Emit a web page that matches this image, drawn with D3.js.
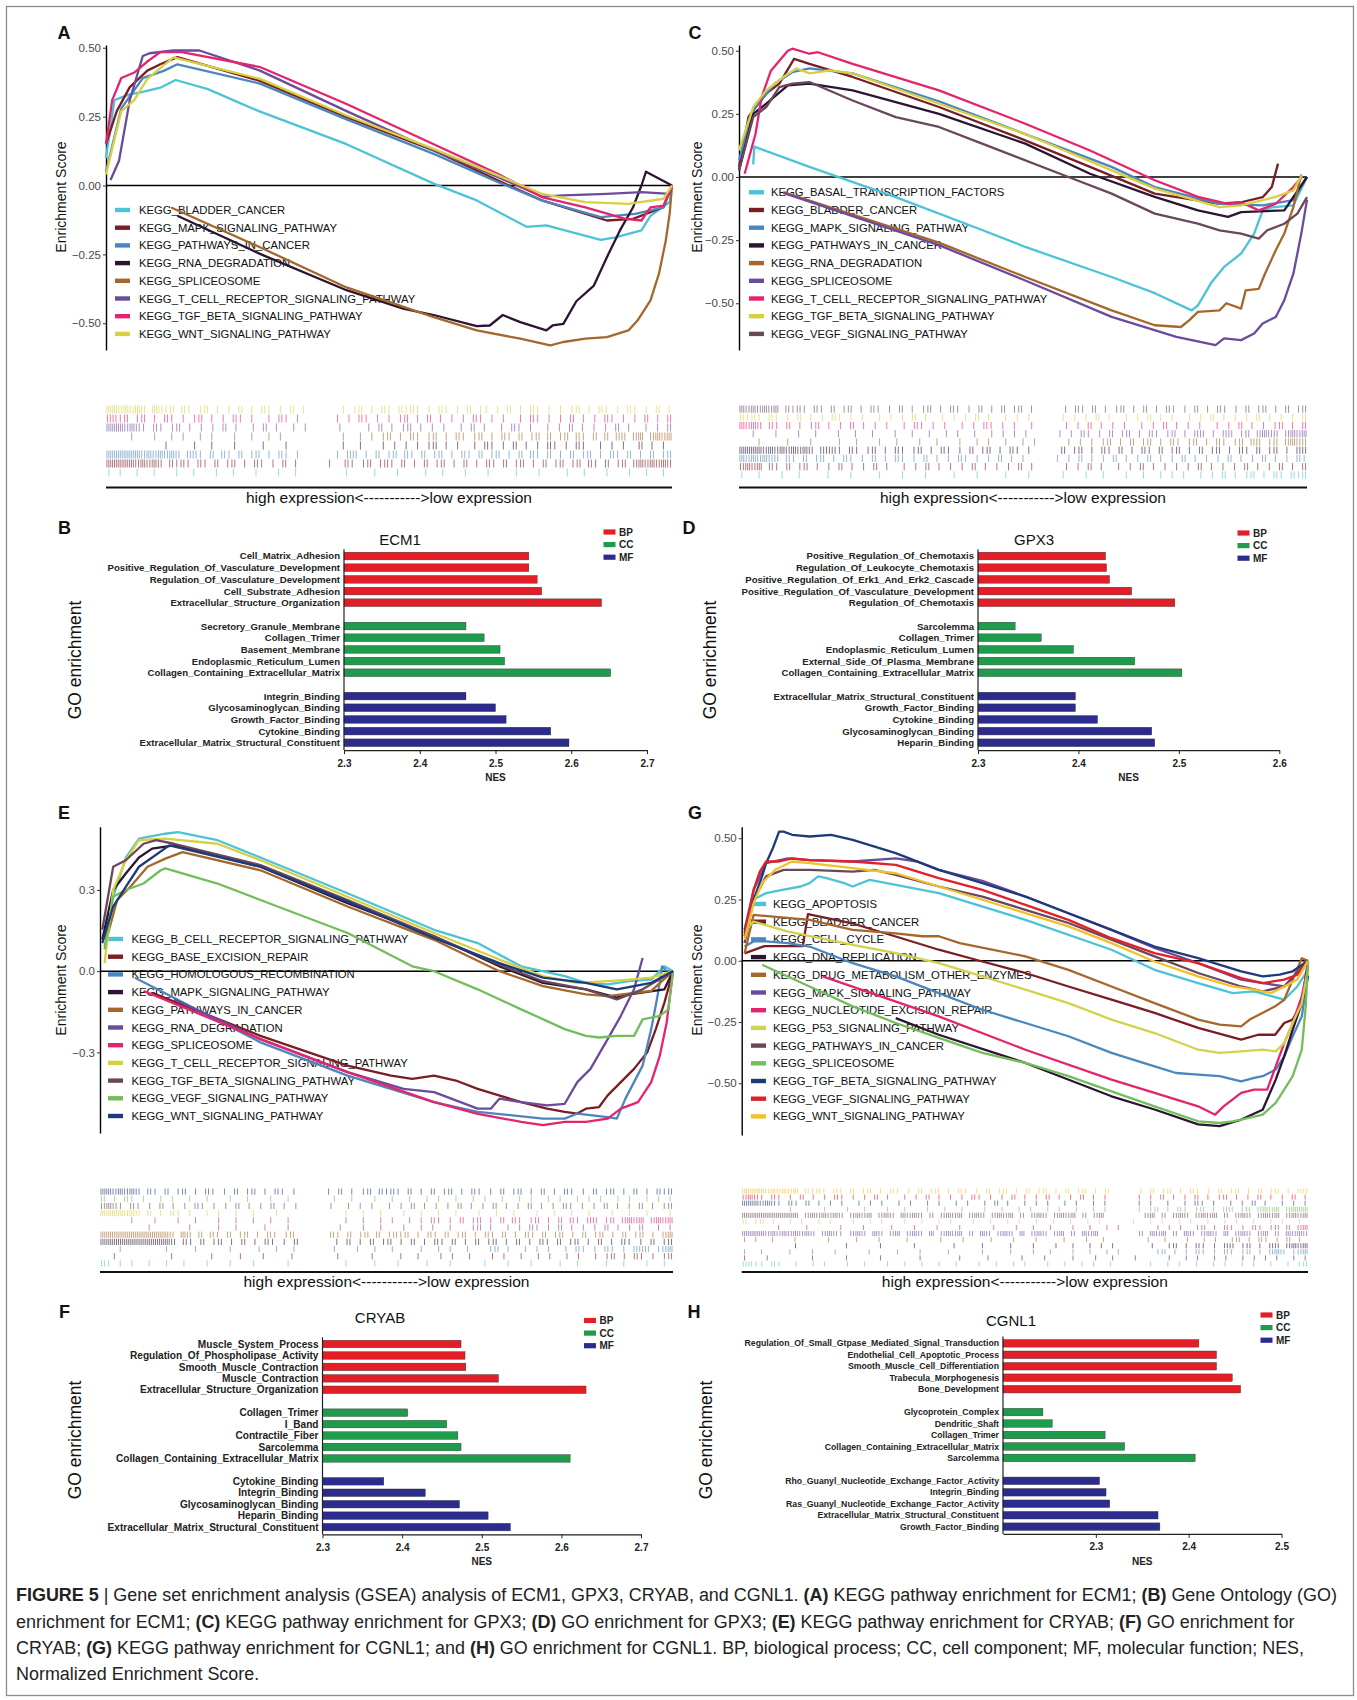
<!DOCTYPE html>
<html><head><meta charset="utf-8">
<script src="https://cdn.jsdelivr.net/npm/d3@7"></script>
<style>body{margin:0;background:#fff}svg{display:block}</style>
</head><body>
<svg id="c" width="1357" height="1700"></svg>
<script>
// ===================== DATA =====================
// Panel A (KEGG, ECM1)
const keggA_names = ["KEGG_BLADDER_CANCER","KEGG_MAPK_SIGNALING_PATHWAY","KEGG_PATHWAYS_IN_CANCER","KEGG_RNA_DEGRADATION","KEGG_SPLICEOSOME","KEGG_T_CELL_RECEPTOR_SIGNALING_PATHWAY","KEGG_TGF_BETA_SIGNALING_PATHWAY","KEGG_WNT_SIGNALING_PATHWAY"];
const keggA_curves = [
 [[0,0.10],[1.5,0.31],[4,0.33],[6.5,0.34],[9.6,0.355],[12.3,0.383],[18,0.35],[27,0.27],[42.5,0.15],[58,0.006],[65.5,-0.054],[74.3,-0.15],[77.8,-0.145],[87.4,-0.197],[90,-0.188],[94.6,-0.163],[96.2,-0.11],[99.6,-0.06],[100,0]],
 [[0,0.15],[1.9,0.27],[4.2,0.357],[7.3,0.417],[9.6,0.44],[12.6,0.466],[27.2,0.38],[42.5,0.248],[57.9,0.127],[69.3,0.018],[77,-0.054],[88.5,-0.127],[93.1,-0.121],[98.5,-0.079],[100,0]],
 [[0,0.05],[2.7,0.28],[6.5,0.39],[10.3,0.417],[12.6,0.44],[27.2,0.37],[42.5,0.24],[57.9,0.115],[69.3,0.012],[77,-0.054],[87.4,-0.115],[93.5,-0.103],[98.5,-0.079],[100,0]],
 [[12.6,-0.11],[27.2,-0.248],[42.5,-0.38],[52.5,-0.447],[57.9,-0.47],[65.5,-0.51],[67.8,-0.508],[70.1,-0.47],[73.2,-0.496],[77.8,-0.526],[78.9,-0.508],[80.8,-0.502],[83.1,-0.42],[86.2,-0.363],[88.5,-0.26],[90.8,-0.163],[93.1,-0.08],[94.6,0],[95.4,0.05],[100,0]],
 [[11.5,-0.08],[27.2,-0.224],[42.5,-0.37],[57.9,-0.478],[65.5,-0.526],[73.2,-0.556],[78.5,-0.58],[80.8,-0.568],[84.7,-0.556],[88.5,-0.55],[92.3,-0.526],[93.9,-0.49],[96.2,-0.417],[97.7,-0.32],[98.9,-0.2],[99.6,-0.1],[100,0]],
 [[0.8,0.02],[2.3,0.09],[4.2,0.31],[6.5,0.47],[7.7,0.48],[11.9,0.49],[16.5,0.49],[27.2,0.417],[42.5,0.27],[57.9,0.127],[69.3,0.03],[77,-0.04],[80.8,-0.036],[88.5,-0.03],[94.6,-0.024],[99.6,-0.03],[100,0]],
 [[0,0.15],[1.1,0.31],[2.7,0.39],[5,0.41],[7.3,0.45],[9.6,0.484],[13.4,0.484],[27.2,0.43],[42.5,0.296],[57.9,0.15],[69.3,0.042],[77,-0.042],[84.7,-0.079],[91.6,-0.12],[94.6,-0.127],[96.2,-0.079],[98.5,-0.073],[100,0]],
 [[0,0.04],[2.7,0.27],[5,0.31],[7.3,0.387],[11.9,0.465],[27.2,0.387],[42.5,0.254],[57.9,0.133],[69.3,0.036],[77,-0.03],[84.7,-0.06],[92.3,-0.067],[98.5,-0.048],[100,0]]
];
// barcode rows, top to bottom (reverse legend order); each char = number of gene hits in that rank bin
const keggA_hits = [
 "3323232.3212.21.12.1.1.2.1.21.1.2.1......1.12.1.21.2121.1.21.1.2.11.1.2.1.21.1.1.12.1.21.1.21.1.2.1",
 "2212.12.1.21.1.12.1.1.21.1..1.21.1......1.1.21.1.1.12.1.2.1.1.1.21.1.1..1.21.1.1.2.1.1.21.1.1.2.1.2",
 "3332321.21.12.1.1.1.2.1..1.2.1..1.1.....1....1.2.1.12.1.1.1..1.2.1..1.21.1..1.1.2.1.1.1.2.1..1.1.2",
 "....1...1..1.1..1.1...1..1..1.1..........1..1.1.12.1.21.12.1.21.12.1.21.2.12.2.12.21.2.2.22.23.2323",
 "..........1....1..1...1....1...1.........1..1...1.1.1.1.12.1.1..1.21.1.2.1.1.21.1.21..1.1.1..2.1.1.",
 "3333332323232.221.2.21.2.12.1.21.1......1.22.1.2.12.21.2.12.1.21.2.12.1.2.21.2.1.2.12.1.21.2.1.2.12",
 "3333323232.2121.21.2.12.1.21.1.2.1.....1..21.12.121.2.1.2.12.1.2.1.21.2.12.1.2.12.12.21.2.12.2323232",
 "1.1..1..1...1..1...1..1...1...1..1........1....1...1....1..1...1...1....1...1....1..1...1...1..1..1."
];

// Panel C (KEGG, GPX3)
const keggC_names = ["KEGG_BASAL_TRANSCRIPTION_FACTORS","KEGG_BLADDER_CANCER","KEGG_MAPK_SIGNALING_PATHWAY","KEGG_PATHWAYS_IN_CANCER","KEGG_RNA_DEGRADATION","KEGG_SPLICEOSOME","KEGG_T_CELL_RECEPTOR_SIGNALING_PATHWAY","KEGG_TGF_BETA_SIGNALING_PATHWAY","KEGG_VEGF_SIGNALING_PATHWAY"];
const keggC_curves = [
 [[2.5,0.05],[2.7,0.12],[12.4,0.04],[27.6,-0.08],[42.8,-0.21],[50.4,-0.277],[65.6,-0.396],[73.2,-0.46],[79.7,-0.528],[80.8,-0.508],[83.1,-0.42],[85.4,-0.356],[88.4,-0.303],[90.7,-0.224],[92.2,-0.132],[93.8,-0.12],[97.6,-0.112],[100,0]],
 [[0,0.04],[1.7,0.24],[4.8,0.33],[7.1,0.37],[9.7,0.468],[12.4,0.448],[20,0.396],[35.2,0.277],[50.4,0.145],[61.8,0.04],[73.2,-0.066],[84.6,-0.106],[88.4,-0.1],[92.2,-0.08],[93.8,-0.04],[94.9,0.053]],
 [[0,0.066],[2.5,0.264],[6.3,0.37],[9.4,0.415],[12.4,0.43],[20,0.41],[35.2,0.3],[50.4,0.17],[65.6,0.04],[73.2,-0.04],[84.6,-0.106],[92.2,-0.112],[97.6,-0.092],[100,0]],
 [[0,0.026],[2.5,0.25],[4.8,0.29],[8.6,0.363],[12.4,0.37],[20,0.343],[35.2,0.25],[50.4,0.132],[61.8,0.013],[73.2,-0.079],[80.8,-0.132],[86.1,-0.158],[88.4,-0.139],[96,-0.132],[100,0]],
 [[7.8,-0.06],[35.2,-0.26],[50.4,-0.396],[65.6,-0.528],[73.2,-0.587],[77.8,-0.594],[79.3,-0.567],[80.8,-0.534],[84.6,-0.528],[85.8,-0.5],[88.4,-0.521],[89.2,-0.449],[91.5,-0.443],[92.6,-0.383],[94.5,-0.29],[96,-0.224],[97.6,-0.119],[99,0.01]],
 [[7.8,-0.063],[35.2,-0.27],[50.4,-0.41],[65.6,-0.554],[77,-0.633],[83.9,-0.666],[85.4,-0.639],[88.4,-0.646],[90.7,-0.62],[92.2,-0.58],[94.5,-0.554],[96,-0.488],[97.6,-0.383],[99,-0.224],[100,-0.09]],
 [[1,0.013],[2.9,0.17],[4,0.317],[5.6,0.42],[7.1,0.46],[8.6,0.5],[9.4,0.508],[12.4,0.488],[13.9,0.494],[20,0.448],[35.2,0.343],[50.4,0.211],[61.8,0.105],[73.2,-0.013],[80.8,-0.079],[86.1,-0.106],[88.4,-0.1],[91.5,-0.132],[94.5,-0.106],[97.6,-0.04],[99.1,0]],
 [[0,0.105],[2.5,0.277],[4.8,0.343],[7.8,0.396],[10.1,0.43],[12.4,0.41],[16.1,0.422],[20,0.41],[35.2,0.29],[50.4,0.17],[65.6,0.026],[73.2,-0.046],[84.6,-0.119],[88.4,-0.112],[94.5,-0.079],[97.6,-0.053],[99.1,0.007]],
 [[0,0.026],[2.5,0.237],[4.8,0.277],[7.1,0.356],[9.4,0.37],[12.4,0.376],[20,0.303],[27.6,0.237],[35.2,0.198],[42.8,0.132],[58,0],[65.6,-0.066],[73.2,-0.145],[80.8,-0.185],[84.6,-0.211],[88.4,-0.224],[91.5,-0.244],[93,-0.211],[96,-0.185],[98.3,-0.145],[100,-0.08]]
];
const keggC_hits = [
 "3232323.2121.21.2.12.1.21.1.2.1.12.1.21.1.2.1.2.12.1.....1.21.2.1.12.1.2.1.21.1.2.1.21.1.2.12.1.2.12",
 "2121.21.1.2.1.1.21.1.1..1.1.1.2.1..1.1.1.2.1..1.1.1.....1.1.1.2.1..1.1.2.1.1..1.1.2.1.1.1.2.1.1.1.2",
 "3232.21.2.1.12.1.1.2.1.1.1..1.21.1.1..1.1.21.1.1..1.....1.1.2.1.1.1..1.1.2.1.1.1..1.1.2.1.1.12.1.2",
 "..1...1...1..1...1..1..1...1..1..1..1.1..1..1.1.1.1.....1.1.21.1.2.12.1.21.12.1.22.1.22.12.2322.2323",
 "...1....1...1....1..1...1..1...1..1...1..1.1..1..1.1.....1.1.1.12.1.2.12.1.21.12.1.21.12.22.12.2322",
 "3333232323232.2221.21.12.1.21.12.1.21.1.2.12.1.21.1.....2.12.1.21.2.1.21.2.12.1.2.12.1.21.2.12.1.22",
 "3232322.21.2.12.1.21.1.2.1.21.1.2.1.1.21.1.1.2.1.1.....1.1.2.1.1.2.1.1.2.1.1.2.1.1.1.2.1.1.2.1.1.21",
 "2323.21.2.12.1.1.2.1.1.2.1..1.1.2.1.1.1.2.1.1.1.2.1.....1.1.2.1..1.1.2.1.1.1.1.2.1.1.1.2.1.1.2.1.2",
 "1..1...1..1....1...1....1...1...1....1...1....1...1.....1...1..1...1..1..1.1.1..1.1.2.1.12.1.21.212"
];

// Panel E (KEGG, CRYAB)
const keggE_names = ["KEGG_B_CELL_RECEPTOR_SIGNALING_PATHWAY","KEGG_BASE_EXCISION_REPAIR","KEGG_HOMOLOGOUS_RECOMBINATION","KEGG_MAPK_SIGNALING_PATHWAY","KEGG_PATHWAYS_IN_CANCER","KEGG_RNA_DEGRADATION","KEGG_SPLICEOSOME","KEGG_T_CELL_RECEPTOR_SIGNALING_PATHWAY","KEGG_TGF_BETA_SIGNALING_PATHWAY","KEGG_VEGF_SIGNALING_PATHWAY","KEGG_WNT_SIGNALING_PATHWAY"];
const keggE_curves = [
 [[0.8,0.116],[2.3,0.275],[4.5,0.42],[6.8,0.49],[11.4,0.508],[13.6,0.514],[20.5,0.484],[28,0.42],[43.2,0.288],[58.3,0.153],[65.9,0.104],[73.5,0.018],[81.1,-0.018],[84.8,-0.043],[88.6,-0.049],[92.4,-0.037],[96.2,-0.031],[98.5,0.018],[100,0]],
 [[9.1,-0.08],[28,-0.239],[43.2,-0.349],[50.8,-0.386],[54.5,-0.398],[58.3,-0.386],[62.1,-0.404],[65.9,-0.435],[73.5,-0.484],[78,-0.508],[81.1,-0.52],[83.3,-0.526],[84.8,-0.508],[87.1,-0.502],[88.6,-0.459],[90.9,-0.41],[93.2,-0.361],[95.5,-0.3],[97,-0.214],[98.5,-0.116],[100,0]],
 [[6.1,-0.024],[28,-0.263],[43.2,-0.386],[58.3,-0.484],[65.9,-0.52],[72,-0.533],[77.3,-0.545],[81.1,-0.545],[83.3,-0.526],[88.6,-0.539],[90.2,-0.545],[91.7,-0.471],[94.7,-0.349],[96.2,-0.214],[97.3,-0.092],[98.1,0.018],[98.9,0]],
 [[0.4,0.116],[2.3,0.3],[4.5,0.361],[6.8,0.42],[9.1,0.453],[12.9,0.465],[28,0.386],[43.2,0.251],[58.3,0.129],[69.7,0.018],[77.3,-0.043],[84.8,-0.067],[90.2,-0.098],[92.4,-0.086],[98.5,-0.067],[100,0]],
 [[0.8,0.092],[3,0.263],[5.3,0.312],[8.3,0.386],[11.4,0.416],[14.4,0.44],[28,0.373],[43.2,0.239],[58.3,0.116],[69.7,0],[77.3,-0.055],[84.8,-0.086],[88.6,-0.092],[96.2,-0.073],[100,0]],
 [[12.9,-0.104],[28,-0.251],[43.2,-0.373],[53,-0.435],[58.3,-0.447],[65.9,-0.508],[68.2,-0.508],[69.7,-0.471],[73.5,-0.484],[78,-0.496],[81.1,-0.49],[83.3,-0.41],[85.6,-0.361],[88.6,-0.251],[90.9,-0.165],[93.2,-0.067],[94.7,0.049]],
 [[7.6,-0.073],[28,-0.251],[43.2,-0.373],[58.3,-0.484],[65.9,-0.527],[73.5,-0.557],[77.3,-0.569],[81.1,-0.557],[84.8,-0.557],[88.6,-0.545],[90.9,-0.508],[93.9,-0.484],[96.2,-0.41],[97.7,-0.312],[98.9,-0.19],[99.6,-0.067],[100,0]],
 [[0.8,0.03],[2.3,0.3],[4.5,0.41],[6.8,0.484],[11.4,0.49],[20.5,0.471],[28,0.41],[43.2,0.275],[58.3,0.141],[69.7,0.043],[77.3,-0.018],[83.3,-0.043],[88.6,-0.037],[92.4,-0.031],[96.2,-0.024],[100,0]],
 [[0.4,0.153],[2.3,0.386],[4.5,0.41],[7.6,0.471],[9.8,0.484],[12.9,0.471],[28,0.392],[43.2,0.263],[58.3,0.129],[69.7,0.024],[77.3,-0.037],[84.8,-0.067],[90.2,-0.104],[94.7,-0.067],[100,0]],
 [[0.8,0.08],[2.3,0.275],[4.5,0.3],[7.6,0.324],[10.6,0.373],[11.4,0.38],[20.5,0.324],[28,0.263],[43.2,0.141],[54.5,0.018],[58.3,0],[65.9,-0.067],[73.5,-0.141],[81.1,-0.214],[84.8,-0.239],[87.1,-0.245],[90.2,-0.239],[93.2,-0.239],[94.7,-0.178],[97.7,-0.165],[99.2,-0.141],[100,0]],
 [[0.4,0.104],[2.3,0.239],[4.5,0.312],[6.8,0.386],[9.1,0.42],[12.1,0.465],[28,0.386],[43.2,0.257],[58.3,0.122],[69.7,0.03],[77.3,-0.024],[84.8,-0.043],[90.2,-0.067],[96.2,-0.043],[100,0]]
];
const keggE_hits = [
 "3323232.21.2.12.1.21.1.2.12.1.21.1.....1.2.1.12.2121.2.1.2.12.1.21.1.2.12.1.2.1.21.1.2.12.1.2.1.212",
 "2.1.21.1..1.1..1..1...1..1...1..1.......1..1...1..1..1..1.1..1..1.1..1..1.1..1.1..1.1.1..1.1..1.1.1",
 "2321.21.1.2.1.1.21.1.1.2.1.1.2.1.1.....1..1.1.1..1.1.2.1.1.1.2.1.1.2.1.1.2.1.1.21.1.1.2.1.1.2.1.12",
 "3333232.2.1.21.1..1.1..1..1...1...........1..1..1...1..1..1..1...1..1..1...1..1..1..1...1..1..1...1",
 ".....1...1...1..1...1..1..1..1..1.........1..1..1.1..1.1.21.1.2.12.1.2.21.12.1.2.21.22.12.2323.2323",
 "........1......1....1..1....1...1........1...1..1...1..1.1..1...12.1..1.1.21.1.2.1.1.1.2.1.1.2..1.1",
 "3333333333332.32.2.21.2.12.1.21.12......21.2.12.2.1212.1.21.2.12.1.21.2.1.21.2.12.1.2.12.1.2.12.1.23",
 "3333333333332.21.2.12.1.2.1.21.1.2......1.2.1.2.12.1.2.1.21.2.1.2.12.1.2.1.21.2.12.1.2.1.21.1.2.12",
 "...1.......1....1.....1....1..1..1......1...1..1..1....1..1.1..1...12.1..1.1.1..1.21.1.21.1.222.123",
 "..1.........1......1....1...1....1.......1.....1....1..1...1.1..1...1.1..1..1.1..1.1..1.12.1.21.1.12",
 "21.1.1..1..1..1...1...1...1.....1.........1....1...1....1...1.....1...1...1....1..1....1..1...1..1."
];

// Panel G (KEGG, CGNL1)
const keggG_names = ["KEGG_APOPTOSIS","KEGG_BLADDER_CANCER","KEGG_CELL_CYCLE","KEGG_DNA_REPLICATION","KEGG_DRUG_METABOLISM_OTHER_ENZYMES","KEGG_MAPK_SIGNALING_PATHWAY","KEGG_NUCLEOTIDE_EXCISION_REPAIR","KEGG_P53_SIGNALING_PATHWAY","KEGG_PATHWAYS_IN_CANCER","KEGG_SPLICEOSOME","KEGG_TGF_BETA_SIGNALING_PATHWAY","KEGG_VEGF_SIGNALING_PATHWAY","KEGG_WNT_SIGNALING_PATHWAY"];
const keggG_curves = [
 [[0.5,0.126],[2.1,0.25],[4.3,0.276],[7.4,0.29],[10.4,0.303],[12,0.317],[13.5,0.344],[15,0.337],[18.1,0.317],[19.6,0.303],[22.6,0.33],[34.8,0.276],[50.1,0.167],[65.3,0.045],[72.9,-0.037],[80.6,-0.091],[86.7,-0.132],[90.5,-0.125],[95.8,-0.159],[98.1,-0.105],[100,-0.037]],
 [[0.5,0.03],[4,0.06],[10.8,0.06],[11.7,0.19],[19.3,0.154],[27.2,0.099],[34.8,0.045],[42.5,-0.003],[50.1,-0.05],[57.7,-0.105],[65.3,-0.159],[72.9,-0.213],[80.6,-0.274],[88.2,-0.322],[91.2,-0.302],[94.2,-0.302],[95.8,-0.254],[97.3,-0.24],[98.9,-0.173],[100,0]],
 [[0.5,0.058],[2.1,0.079],[4.3,0.079],[8.1,0.072],[12,0.058],[19.6,-0.01],[27.2,-0.064],[34.8,-0.132],[42.5,-0.2],[50.1,-0.254],[57.7,-0.308],[65.3,-0.376],[72.9,-0.431],[76.7,-0.458],[80.6,-0.465],[84.4,-0.471],[88.2,-0.492],[90.5,-0.478],[92,-0.471],[94.3,-0.444],[95.8,-0.39],[97.3,-0.308],[98.9,-0.227],[100,-0.064]],
 [[27.2,-0.234],[34.8,-0.302],[50.1,-0.417],[65.3,-0.553],[72.9,-0.607],[80.6,-0.668],[84.4,-0.675],[88.2,-0.648],[92,-0.608],[94.3,-0.485],[95.8,-0.39],[97.3,-0.281],[98.9,-0.173],[100,-0.06]],
 [[0.5,0.03],[2.1,0.187],[12,0.167],[19.6,0.126],[27.2,0.112],[31.9,0.1],[34.8,0.1],[38.5,0.072],[50.1,0.018],[57.7,-0.037],[65.3,-0.105],[72.9,-0.173],[80.6,-0.24],[84.4,-0.261],[88.2,-0.268],[89.7,-0.24],[94.2,-0.186],[95.8,-0.159],[97.3,-0.077],[98.9,0.01],[100,0]],
 [[0.5,0.126],[2.1,0.289],[4.3,0.398],[8.2,0.418],[12,0.411],[19.6,0.405],[27.2,0.418],[31,0.405],[34.8,0.371],[42.5,0.326],[50.1,0.262],[57.7,0.194],[65.3,0.126],[72.9,0.052],[80.6,-0.01],[88.2,-0.077],[95.8,-0.105],[100,0]],
 [[14.3,-0.064],[34.8,-0.227],[50.1,-0.363],[65.3,-0.485],[72.9,-0.539],[80.6,-0.594],[83.6,-0.628],[85.1,-0.594],[88.2,-0.539],[90.5,-0.526],[92.8,-0.526],[94.3,-0.431],[95.8,-0.336],[97.3,-0.254],[98.9,-0.145],[100,-0.023]],
 [[0.5,0.12],[2.1,0.16],[8,0.12],[19.6,0.065],[27.2,0.031],[34.8,-0.01],[42.5,-0.064],[50.1,-0.118],[57.7,-0.173],[65.3,-0.24],[72.9,-0.295],[80.6,-0.363],[84.4,-0.376],[88.2,-0.37],[92,-0.363],[94.3,-0.37],[95.8,-0.336],[97.3,-0.254],[98.9,-0.173],[100,-0.037]],
 [[0.5,0.072],[2.1,0.249],[4.3,0.344],[7.4,0.371],[12,0.371],[19.6,0.364],[23.4,0.371],[27.2,0.35],[34.8,0.303],[42.5,0.262],[50.1,0.208],[57.7,0.154],[65.3,0.086],[72.9,0.018],[80.6,-0.05],[88.2,-0.105],[92,-0.125],[95.8,-0.105],[100,0]],
 [[3.6,-0.016],[12,-0.105],[19.6,-0.186],[27.2,-0.254],[34.8,-0.315],[42.5,-0.376],[50.1,-0.417],[57.7,-0.471],[65.3,-0.533],[72.9,-0.594],[80.6,-0.655],[84.4,-0.662],[86.7,-0.655],[88.2,-0.648],[92,-0.628],[94.3,-0.58],[95.8,-0.526],[97.3,-0.471],[98.9,-0.363],[99.6,-0.186],[100,0]],
 [[0.5,0.113],[2.1,0.249],[3.6,0.344],[4.3,0.398],[5.5,0.459],[6.6,0.527],[7.4,0.527],[8.9,0.514],[12,0.507],[15.8,0.514],[19.6,0.493],[27.2,0.439],[34.8,0.371],[42.5,0.317],[50.1,0.262],[57.7,0.194],[65.3,0.126],[72.9,0.058],[80.6,0.011],[88.2,-0.043],[92,-0.064],[95,-0.057],[97.3,-0.043],[100,0]],
 [[0.5,0.1],[2.1,0.289],[3.2,0.364],[4.3,0.405],[6.6,0.405],[8.9,0.418],[12,0.411],[19.6,0.405],[27.2,0.391],[34.8,0.337],[42.5,0.289],[50.1,0.228],[57.7,0.167],[65.3,0.092],[72.9,0.031],[80.6,-0.01],[88.2,-0.071],[92,-0.091],[95.8,-0.077],[98.1,-0.057],[100,0]],
 [[0.5,0.086],[2.1,0.235],[3.6,0.317],[5.9,0.371],[8.9,0.405],[12,0.398],[19.6,0.378],[27.2,0.357],[34.8,0.303],[42.5,0.249],[50.1,0.194],[57.7,0.14],[65.3,0.072],[72.9,-0.003],[80.6,-0.064],[86.7,-0.105],[90.5,-0.118],[93.5,-0.132],[95.8,-0.105],[98.1,-0.077],[100,0]]
];
const keggG_hits = [
 "3333232323.2121.21.2.12.1.21.1.2.12.1.21.1.2.12.1.2.12.1.2.12.1.2.....1.2.12.1.21.1.2.12.1.2.12.1.22",
 "2321.21.1.2.1.1.21.1.1.2.1..1.1.2.1.1.1.21.1.1.2.1.1.2.1.1.2.1.1.....1.1.2.1.1.2.1.12.1.1.2.1.1.2.1",
 "3332321.21.2.1.1.1..1.1.1..1.1..1.1..1.1..1.2.1..1.1.1..1.1..1.1.....1.1..1..1.21.1..1.1.2.1..1.1.1",
 "........1.....1...1..1...1..1...1..1..1...1..1..1.1..1.1..1..1.1.....1.12.1.21.12.1.22.12.2323.2333",
 "3333333333.2323232.2323.232.3232.2.2323.232.2323.2.232.2323.2.23.......23.2.232.2323.2.232.2323.2323",
 "2.12.1..1.1..1.1...1..1.1...1..1..1.1...1..1..1.1..1..1..1..1.1.....1..1.1..1.1..1..1.1..1..1.1..1.",
 "......1....1.....1...1....1...1...1...1.....1...1..1..1...1..1..1.1......1.1.1..12.1.21.1.21.12.2.23",
 "3333232323232.2321.232.32.23.232.3.2323.2.32.232.3.232.23.2.323.......2.323.2.32.232.3.232.23.2.3232",
 "1.1..1...1.....1....1...1....1.....1...1....1...1...1....1...1..1.......1..1...1..1.1..12.1.21.1.2.1.",
 ".........1........1.....1.....1......1....1....1...1...1..1..1.1.1......1..12.1.21.1.22.12.1.22.2323",
 "1..1....1...1...1.....1....1...1....1.....1....1...1..1...1..1..1.1......12.1.1.21.1.21.12.1.232.123",
 "1...1.......1.....1.....1......1......1....1.....1...1....1...1..1...1.....1..1.1..1.1..1.1.1.1..1.1",
 "2211.21..1..1.1...1..1...1..1..1..1..1...1..1..1.1...1..1..1.1..1......1..1.1..1..1.1..1.1..1..1.12"
];
const esTicks2 = [-0.5,-0.25,0,0.25,0.5];
const esTicks1 = [-0.3,0,0.3];
const barcodeLabel = "high expression<----------->low expression";

// GO panels: NES values
const goB_gene = "ECM1";
const goB_BP = ["Cell_Matrix_Adhesion","Positive_Regulation_Of_Vasculature_Development","Regulation_Of_Vasculature_Development","Cell_Substrate_Adhesion","Extracellular_Structure_Organization"];
const goB_BP_nes = [2.544,2.544,2.555,2.561,2.640];
const goB_CC = ["Secretory_Granule_Membrane","Collagen_Trimer","Basement_Membrane","Endoplasmic_Reticulum_Lumen","Collagen_Containing_Extracellular_Matrix"];
const goB_CC_nes = [2.461,2.485,2.506,2.512,2.652];
const goB_MF = ["Integrin_Binding","Glycosaminoglycan_Binding","Growth_Factor_Binding","Cytokine_Binding","Extracellular_Matrix_Structural_Constituent"];
const goB_MF_nes = [2.461,2.500,2.514,2.573,2.597];
const goB_ticks = [2.3,2.4,2.5,2.6,2.7];

const goD_gene = "GPX3";
const goD_BP = ["Positive_Regulation_Of_Chemotaxis","Regulation_Of_Leukocyte_Chemotaxis","Positive_Regulation_Of_Erk1_And_Erk2_Cascade","Positive_Regulation_Of_Vasculature_Development","Regulation_Of_Chemotaxis"];
const goD_BP_nes = [2.427,2.428,2.431,2.453,2.496];
const goD_CC = ["Sarcolemma","Collagen_Trimer","Endoplasmic_Reticulum_Lumen","External_Side_Of_Plasma_Membrane","Collagen_Containing_Extracellular_Matrix"];
const goD_CC_nes = [2.337,2.363,2.395,2.456,2.503];
const goD_MF = ["Extracellular_Matrix_Structural_Constituent","Growth_Factor_Binding","Cytokine_Binding","Glycosaminoglycan_Binding","Heparin_Binding"];
const goD_MF_nes = [2.397,2.397,2.419,2.473,2.476];
const goD_ticks = [2.3,2.4,2.5,2.6];

const goF_gene = "CRYAB";
const goF_BP = ["Muscle_System_Process","Regulation_Of_Phospholipase_Activity","Smooth_Muscle_Contraction","Muscle_Contraction","Extracellular_Structure_Organization"];
const goF_BP_nes = [2.474,2.479,2.480,2.521,2.631];
const goF_CC = ["Collagen_Trimer","I_Band","Contractile_Fiber","Sarcolemma","Collagen_Containing_Extracellular_Matrix"];
const goF_CC_nes = [2.407,2.456,2.470,2.474,2.611];
const goF_MF = ["Cytokine_Binding","Integrin_Binding","Glycosaminoglycan_Binding","Heparin_Binding","Extracellular_Matrix_Structural_Constituent"];
const goF_MF_nes = [2.377,2.429,2.472,2.508,2.536];
const goF_ticks = [2.3,2.4,2.5,2.6,2.7];

const goH_gene = "CGNL1";
const goH_BP = ["Regulation_Of_Small_Gtpase_Mediated_Signal_Transduction","Endothelial_Cell_Apoptotic_Process","Smooth_Muscle_Cell_Differentiation","Trabecula_Morphogenesis","Bone_Development"];
const goH_BP_nes = [2.411,2.430,2.430,2.447,2.456];
const goH_CC = ["Glycoprotein_Complex","Dendritic_Shaft","Collagen_Trimer","Collagen_Containing_Extracellular_Matrix","Sarcolemma"];
const goH_CC_nes = [2.243,2.253,2.310,2.331,2.407];
const goH_MF = ["Rho_Guanyl_Nucleotide_Exchange_Factor_Activity","Integrin_Binding","Ras_Guanyl_Nucleotide_Exchange_Factor_Activity","Extracellular_Matrix_Structural_Constituent","Growth_Factor_Binding"];
const goH_MF_nes = [2.304,2.311,2.315,2.367,2.369];
const goH_ticks = [2.3,2.4,2.5];

const goLegend = ["BP","CC","MF"];

const captionLines = [
 [["FIGURE 5",1],[" | Gene set enrichment analysis (GSEA) analysis of ECM1, GPX3, CRYAB, and CGNL1. ",0],["(A)",1],[" KEGG pathway enrichment for ECM1; ",0],["(B)",1],[" Gene Ontology (GO)",0]],
 [["enrichment for ECM1; ",0],["(C)",1],[" KEGG pathway enrichment for GPX3; ",0],["(D)",1],[" GO enrichment for GPX3; ",0],["(E)",1],[" KEGG pathway enrichment for CRYAB; ",0],["(F)",1],[" GO enrichment for",0]],
 [["CRYAB; ",0],["(G)",1],[" KEGG pathway enrichment for CGNL1; and ",0],["(H)",1],[" GO enrichment for CGNL1. BP, biological process; CC, cell component; MF, molecular function; NES,",0]],
 [["Normalized Enrichment Score.",0]]
];

// ===================== DRAWING =====================
const FONT = "'Liberation Sans', Arial, Helvetica, sans-serif";
const PAL = {cyan:"#4CC3D6",dred:"#7A1E24",steel:"#4C86BE",dark:"#2C1532",brown:"#A5672B",purple:"#6C4B9C",pink:"#E5246F",yellow:"#D7D042",mauve:"#6A485C",green:"#72BE5A",navy:"#1F3A78",red:"#E2202A",gold:"#F1C12C",ygreen:"#D2D24C"};
const colA = [PAL.cyan,PAL.dred,PAL.steel,PAL.dark,PAL.brown,PAL.purple,PAL.pink,PAL.yellow];
const colC = [PAL.cyan,PAL.dred,PAL.steel,PAL.dark,PAL.brown,PAL.purple,PAL.pink,PAL.yellow,PAL.mauve];
const colE = [PAL.cyan,PAL.dred,PAL.steel,PAL.dark,PAL.brown,PAL.purple,PAL.pink,PAL.yellow,PAL.mauve,PAL.green,PAL.navy];
const colG = [PAL.cyan,PAL.dred,PAL.steel,PAL.dark,PAL.brown,PAL.purple,PAL.pink,PAL.ygreen,PAL.mauve,PAL.green,PAL.navy,PAL.red,PAL.gold];
const GOCOL = {BP:"#E41E26",CC:"#1E9B4B",MF:"#2C2B8E"};

const svg = d3.select("#c").attr("font-family",FONT);
svg.append("rect").attr("width",1357).attr("height",1700).attr("fill","#fff");
svg.append("rect").attr("x",6.5).attr("y",6.5).attr("width",1347).attr("height",1689)
  .attr("fill","none").attr("stroke","#8c8c8c").attr("stroke-width",1.3);

function letter(t,x,y){
  svg.append("text").attr("x",x).attr("y",y).attr("dy","0.36em").attr("text-anchor","middle")
    .attr("font-size",18).attr("font-weight","bold").attr("fill","#111").text(t);
}

function gsea(o){
  const g = svg.append("g");
  const x = d3.scaleLinear([0,100],[o.x0,o.x1]);
  const y = d3.scaleLinear([o.esBot,o.esTop],[o.yBot,o.yTop]);
  letter(o.letter,o.lx,o.ly);
  const ax = g.append("g").attr("transform",`translate(${o.x0},0)`)
    .call(d3.axisLeft(y).tickValues(o.ticks).tickFormat(d3.format(o.fmt)).tickSize(3).tickSizeOuter(0));
  ax.select(".domain").attr("stroke","#000").attr("stroke-width",1.4);
  ax.selectAll(".tick line").attr("stroke","#333");
  ax.selectAll(".tick text").attr("font-size",11.5).attr("fill","#4a4a4a").attr("font-family",FONT).attr("x",-5);
  g.append("line").attr("x1",x(0)).attr("x2",x(100)).attr("y1",y(0)).attr("y2",y(0))
    .attr("stroke","#000").attr("stroke-width",1.4);
  g.append("text").attr("transform",`translate(${o.tx},${o.ty}) rotate(-90)`)
    .attr("text-anchor","middle").attr("dy","0.35em").attr("font-size",14).attr("fill","#111").text("Enrichment Score");
  o.names.forEach((n,i)=>{
    const yy = o.legY + i*17.7;
    g.append("rect").attr("x",o.legX).attr("y",yy-2.2).attr("width",15).attr("height",4.4).attr("fill",o.colors[i]);
    g.append("text").attr("x",o.legTX).attr("y",yy).attr("dy","0.36em").attr("font-size",11.3).attr("fill","#111").text(n);
  });
  const line = d3.line().x(d=>x(d[0])).y(d=>y(d[1]));
  o.curves.forEach((c,i)=>{
    g.append("path").attr("d",line(c)).attr("fill","none").attr("stroke",o.colors[i])
      .attr("stroke-width",2.3).attr("stroke-linejoin","round").attr("stroke-linecap","butt");
  });
  // barcode: each char is the hit count in a rank bin
  const n = o.hits.length, h = (o.bcBot-o.bcTop)/n;
  o.hits.forEach((s,r)=>{
    const col = o.colors[n-1-r];
    const bx = d3.scaleLinear([0,s.length],[o.x0,o.x1]);
    const pos = [];
    for(let i=0;i<s.length;i++){
      const k = +s[i];
      if(k>0) for(let j=0;j<k;j++) pos.push(i+(j+0.5)/k);
    }
    g.append("g").selectAll("line").data(pos).join("line")
      .attr("x1",d=>bx(d)).attr("x2",d=>bx(d))
      .attr("y1",o.bcTop+r*h+0.5).attr("y2",o.bcTop+(r+1)*h-0.5)
      .attr("stroke",col).attr("stroke-width",1).attr("stroke-opacity",0.6);
  });
  g.append("line").attr("x1",o.x0).attr("x2",o.x1).attr("y1",o.bcBase).attr("y2",o.bcBase)
    .attr("stroke","#111").attr("stroke-width",2);
  g.append("text").attr("x",(o.x0+o.x1)/2).attr("y",o.labY).attr("text-anchor","middle")
    .attr("font-size",15.5).attr("fill","#111").text(barcodeLabel);
}

function goPanel(o){
  const g = svg.append("g");
  letter(o.letter,o.lx,o.ly);
  const rows = [];
  o.bp.forEach((n,i)=>rows.push({k:"bp"+i,name:n,v:o.bpV[i],c:"BP"}));
  rows.push({k:"gap1"});
  o.cc.forEach((n,i)=>rows.push({k:"cc"+i,name:n,v:o.ccV[i],c:"CC"}));
  rows.push({k:"gap2"});
  o.mf.forEach((n,i)=>rows.push({k:"mf"+i,name:n,v:o.mfV[i],c:"MF"}));
  const y = d3.scaleBand(rows.map(r=>r.k),[o.yTop,o.yBot]).paddingInner(0.34).paddingOuter(0.17);
  const x = d3.scaleLinear(o.dom,[o.x0,o.x1]);
  const bars = rows.filter(r=>r.name);
  g.selectAll("rect.bar").data(bars).join("rect").attr("class","bar")
    .attr("x",x(o.dom[0])).attr("y",d=>y(d.k)).attr("width",d=>x(d.v)-x(o.dom[0])).attr("height",y.bandwidth())
    .attr("fill",d=>GOCOL[d.c]).attr("stroke","#333").attr("stroke-width",0.4);
  g.selectAll("text.cat").data(bars).join("text").attr("class","cat")
    .attr("x",x(o.dom[0])-4).attr("y",d=>y(d.k)+y.bandwidth()/2).attr("dy","0.36em")
    .attr("text-anchor","end").attr("font-size",o.catFs).attr("font-weight","bold").attr("fill","#222").text(d=>d.name);
  const axY = o.yBot+1.5;
  g.append("line").attr("x1",o.x0).attr("x2",o.x0).attr("y1",o.yTop-1).attr("y2",axY).attr("stroke","#222").attr("stroke-width",1.2);
  const ax = g.append("g").attr("transform",`translate(0,${axY})`)
    .call(d3.axisBottom(x).tickValues(o.ticks).tickFormat(d3.format(".1f")).tickSize(4).tickPadding(5.5).tickSizeOuter(0));
  ax.select(".domain").attr("stroke","#222").attr("stroke-width",1.2);
  ax.selectAll(".tick line").attr("stroke","#222");
  ax.selectAll(".tick text").attr("font-size",10).attr("font-weight","bold").attr("fill","#222").attr("font-family",FONT);
  g.append("text").attr("x",(o.x0+o.x1)/2).attr("y",o.nesY).attr("text-anchor","middle")
    .attr("font-size",10).attr("font-weight","bold").attr("fill","#222").text("NES");
  g.append("text").attr("x",o.titleX).attr("y",o.titleY).attr("dy","0.36em").attr("text-anchor","middle")
    .attr("font-size",15).attr("fill","#111").text(o.gene);
  g.append("text").attr("transform",`translate(${o.gx},${o.gy}) rotate(-90)`).attr("text-anchor","middle")
    .attr("dy","0.36em").attr("font-size",17.5).attr("fill","#111").text("GO enrichment");
  goLegend.forEach((k,i)=>{
    const yy = o.legY + i*12.6;
    g.append("rect").attr("x",o.legX).attr("y",yy-2.6).attr("width",12).attr("height",5.2).attr("fill",GOCOL[k]);
    g.append("text").attr("x",o.legX+15.5).attr("y",yy).attr("dy","0.36em").attr("font-size",10).attr("font-weight","bold").attr("fill","#222").text(k);
  });
}

gsea({letter:"A",lx:64,ly:33,names:keggA_names,curves:keggA_curves,hits:keggA_hits,colors:colA,
  x0:106,x1:672,yTop:45,yBot:350,esTop:0.51,esBot:-0.597,ticks:esTicks2,fmt:".2f",
  tx:61,ty:197,legX:115,legTX:139,legY:210,bcTop:405,bcBot:477,bcBase:487.5,labY:503});
gsea({letter:"C",lx:695,ly:33,names:keggC_names,curves:keggC_curves,hits:keggC_hits,colors:colC,
  x0:739,x1:1307,yTop:45,yBot:350,esTop:0.5226,esBot:-0.685,ticks:esTicks2,fmt:".2f",
  tx:697,ty:197,legX:749,legTX:771,legY:192.3,bcTop:405,bcBot:479,bcBase:487.5,labY:503});
gsea({letter:"E",lx:64,ly:813,names:keggE_names,curves:keggE_curves,hits:keggE_hits,colors:colE,
  x0:100,x1:673,yTop:826.7,yBot:1133,esTop:0.534,esBot:-0.598,ticks:esTicks1,fmt:".1f",
  tx:61,ty:980,legX:108,legTX:131.5,legY:939,bcTop:1188,bcBot:1267,bcBase:1272,labY:1287});
gsea({letter:"G",lx:695,ly:813,names:keggG_names,curves:keggG_curves,hits:keggG_hits,colors:colG,
  x0:741.7,x1:1308,yTop:826.7,yBot:1135,esTop:0.547,esBot:-0.711,ticks:esTicks2,fmt:".2f",
  tx:697,ty:980,legX:751,legTX:773,legY:904,bcTop:1188,bcBot:1267,bcBase:1272,labY:1287});

goPanel({letter:"B",lx:64.5,ly:528,gene:goB_gene,bp:goB_BP,bpV:goB_BP_nes,cc:goB_CC,ccV:goB_CC_nes,mf:goB_MF,mfV:goB_MF_nes,catFs:9.6,
  ticks:goB_ticks,dom:[2.3,2.7],x0:344,x1:647,yTop:550.2,yBot:748.6,nesY:780.5,titleX:400,titleY:540,gx:75,gy:660,legX:603.5,legY:532});
goPanel({letter:"D",lx:689,ly:528,gene:goD_gene,bp:goD_BP,bpV:goD_BP_nes,cc:goD_CC,ccV:goD_CC_nes,mf:goD_MF,mfV:goD_MF_nes,catFs:9.6,
  ticks:goD_ticks,dom:[2.3,2.6],x0:978,x1:1279.3,yTop:550.2,yBot:748.6,nesY:780.5,titleX:1034,titleY:540,gx:710,gy:660,legX:1237.5,legY:533});
goPanel({letter:"F",lx:64.5,ly:1311.7,gene:goF_gene,bp:goF_BP,bpV:goF_BP_nes,cc:goF_CC,ccV:goF_CC_nes,mf:goF_MF,mfV:goF_MF_nes,catFs:10.1,
  ticks:goF_ticks,dom:[2.3,2.7],x0:322.5,x1:641,yTop:1338.3,yBot:1532.8,nesY:1565,titleX:380,titleY:1318,gx:75,gy:1440,legX:584,legY:1320.5});
goPanel({letter:"H",lx:694,ly:1311.7,gene:goH_gene,bp:goH_BP,bpV:goH_BP_nes,cc:goH_CC,ccV:goH_CC_nes,mf:goH_MF,mfV:goH_MF_nes,catFs:8.7,
  ticks:goH_ticks,dom:[2.2,2.5],x0:1003,x1:1281.5,yTop:1337.6,yBot:1532.4,nesY:1565,titleX:1011,titleY:1321,gx:706,gy:1440,legX:1260.5,legY:1315});

// caption
const capG = svg.append("g");
const capY = [1601,1627.5,1654,1680];
const capTexts = captionLines.map((parts,li)=>{
  const t = capG.append("text").attr("x",16).attr("y",capY[li]).attr("font-size",17).attr("fill","#222");
  parts.forEach(p=>t.append("tspan").attr("font-weight",p[1]?"bold":"normal").text(p[0]));
  return t;
});
const w1 = capTexts[0].node().getComputedTextLength();
const fs = Math.min(19, 17*1322/w1);
capTexts.forEach(t=>t.attr("font-size",fs));
</script>
</body></html>
